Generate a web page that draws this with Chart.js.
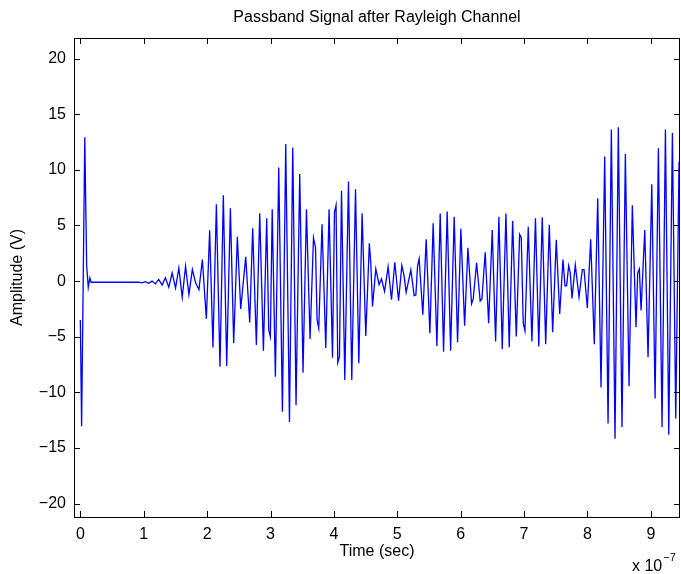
<!DOCTYPE html>
<html>
<head>
<meta charset="utf-8">
<title>Passband Signal after Rayleigh Channel</title>
<script src="https://cdn.jsdelivr.net/npm/chart.js@4.4.1/dist/chart.umd.min.js"></script>
<style>
  html, body { margin: 0; padding: 0; background: #fff; }
  #wrap { width: 681px; height: 574px; }
</style>
</head>
<body>
<div id="wrap"><canvas id="signal" width="681" height="574"></canvas></div>
<script>
// time axis in units of 1e-7 s
const timeE7 = [
  0.00, 0.02, 0.07, 0.10, 0.125, 0.15, 0.17, 0.92,
  0.973, 1.025, 1.078, 1.131, 1.184, 1.236, 1.290, 1.342, 1.396, 1.448, 1.502, 1.554, 1.607, 1.660, 1.713, 1.767, 1.819, 1.871, 1.925,
  1.988, 2.040, 2.092, 2.146, 2.203, 2.256, 2.309, 2.367, 2.419, 2.477, 2.530, 2.609, 2.672, 2.719, 2.777, 2.830, 2.888, 2.940, 2.972, 2.998, 3.027,
  3.077, 3.130, 3.188, 3.240, 3.299, 3.351, 3.403, 3.461, 3.513, 3.567, 3.624, 3.678, 3.710, 3.735, 3.761, 3.813, 3.872, 3.924, 3.978, 4.009, 4.034, 4.061, 4.088, 4.120, 4.172, 4.230, 4.282, 4.341, 4.393, 4.445, 4.503, 4.559,
  4.582, 4.609, 4.661, 4.713, 4.751, 4.799, 4.855, 4.909, 4.961, 5.020, 5.072, 5.108, 5.140, 5.214, 5.266, 5.293, 5.320, 5.345,
  5.403, 5.456, 5.514, 5.566, 5.625, 5.677, 5.730, 5.787, 5.841, 5.898, 5.951, 6.003, 6.062, 6.114,
  6.172, 6.198, 6.251, 6.308, 6.335, 6.387, 6.441, 6.498, 6.551, 6.603, 6.656, 6.714, 6.766, 6.820, 6.877, 6.930, 6.956, 6.987, 7.014,
  7.066, 7.124, 7.180, 7.232, 7.287, 7.341, 7.398, 7.451, 7.508, 7.562, 7.614, 7.646, 7.672, 7.704, 7.729, 7.756, 7.808, 7.867, 7.919, 7.946, 7.998,
  8.051, 8.108, 8.162, 8.214, 8.272, 8.325, 8.377, 8.435, 8.487, 8.545, 8.598, 8.656, 8.708, 8.766, 8.793, 8.819, 8.846, 8.904, 8.956, 9.015, 9.067, 9.119, 9.177, 9.230, 9.283, 9.340, 9.393, 9.445
];

// received amplitude (V), same sample order as timeE7
const amplitude = [
  -3.5, -13.05, 12.93, 1.34, -0.56, 0.29, -0.1, -0.1,
  -0.15, -0.05, -0.2, 0.0, -0.25, 0.15, -0.35, 0.3, -0.55, 0.74, -0.62, 1.19, -1.46, 1.34, -1.22, 1.04, -0.16, -0.77, 1.94,
  -3.39, 4.56, -5.97, 6.9, -7.69, 7.72, -7.63, 6.55, -5.58, 3.99, -2.51, 2.18, -3.72, 4.74, -5.73, 6.09, -6.25, 5.64, -4.4, -5.0, 6.46,
  -8.6, 10.22, -11.75, 12.32, -12.66, 12.0, -11.15, 9.62, -8.23, 6.46, -5.19, 3.9, 3.0, -3.48, -4.23, 5.1, -6.0, 6.46, -6.88, 6.2, 6.82, -7.33, -6.8, 8.11, -8.89, 8.95, -8.89, 8.26, -7.39, 6.09, -4.92, 3.39,
  1.64, -2.27, 1.1, -0.32, 0.2, -0.92, 1.28, -1.67, 1.7, -1.76, 1.4, 0.45, -1.01, 1.01, -1.31, -1.25, 1.34, 2.0,
  -3.02, 3.75, -4.68, 5.19, -5.82, 6.07, -6.34, 6.25, -6.25, 5.79, -5.49, 4.71, -4.02, 3.0,
  -2.03, -1.6, 1.64, -1.8, -1.6, 2.6, -3.78, 4.59, -5.43, 5.79, -6.12, 6.07, -5.94, 5.4, -4.98, 4.2, 3.9, -3.78, -4.47,
  4.89, -5.43, 5.64, -5.88, 5.73, -5.67, 5.07, -4.59, 3.72, -2.96, 1.94, -0.44, -0.4, 1.4, 0.74, -1.56, 1.46, -1.43, 1.04, 1.04, -2.42,
  3.75, -5.67, 7.45, -9.56, 11.21, -12.8, 13.62, -14.16, 13.83, -13.11, 11.42, -9.44, 6.82, -4.14, 0.74, 1.1, -2.63, 4.59, -6.85, 8.71, -10.55, 11.93, -13.11, 13.62, -13.8, 13.32, -12.35, 10.73
];

const xRange = [-0.1, 9.46];
const yRange = [-21.2, 21.85];
const yTickStep = 5;
const xTickStep = 1;

const FONT = '"Liberation Sans", Arial, Helvetica, sans-serif';

// box around the axes with inward tick marks, plus title and axis labels
const matlabFrame = {
  id: 'matlabFrame',
  afterDraw(chart) {
    const { ctx, chartArea: a, scales: { x, y } } = chart;
    const tick = 6;
    ctx.save();
    ctx.strokeStyle = '#000';
    ctx.lineWidth = 1;
    ctx.strokeRect(a.left + 0.5, a.top + 0.5, a.right - a.left - 1, a.bottom - a.top);

    ctx.beginPath();
    x.ticks.forEach(t => {
      const px = Math.round(x.getPixelForValue(t.value)) + 0.5;
      ctx.moveTo(px, a.bottom); ctx.lineTo(px, a.bottom - tick);
      ctx.moveTo(px, a.top); ctx.lineTo(px, a.top + tick);
    });
    y.ticks.forEach(t => {
      const py = Math.round(y.getPixelForValue(t.value)) + 0.5;
      ctx.moveTo(a.left, py); ctx.lineTo(a.left + tick, py);
      ctx.moveTo(a.right, py); ctx.lineTo(a.right - tick, py);
    });
    ctx.stroke();

    const mid = (a.left + a.right) / 2;
    ctx.fillStyle = '#000';
    ctx.textAlign = 'center';
    ctx.textBaseline = 'middle';
    ctx.font = '16px ' + FONT;
    ctx.fillText('Passband Signal after Rayleigh Channel', mid, 18);
    ctx.fillText('Time (sec)', mid, 552);

    ctx.save();
    ctx.translate(18, (a.top + a.bottom) / 2);
    ctx.rotate(-Math.PI / 2);
    ctx.fillText('Amplitude (V)', 0, 0);
    ctx.restore();

    // exponent of the time axis
    ctx.textAlign = 'left';
    ctx.textBaseline = 'alphabetic';
    ctx.font = '16px ' + FONT;
    ctx.fillText('x 10', 632, 571);
    const w = ctx.measureText('x 10').width;
    ctx.font = '11px ' + FONT;
    ctx.fillText('\u22127', 632 + w + 1, 561);
    ctx.restore();
  }
};

const points = timeE7.map((t, i) => ({ x: t, y: amplitude[i] }));

new Chart(document.getElementById('signal'), {
  type: 'line',
  data: {
    datasets: [{
      data: points,
      borderColor: '#0000ff',
      borderWidth: 1.3,
      pointRadius: 0,
      tension: 0,
      fill: false
    }]
  },
  options: {
    responsive: false,
    animation: false,
    events: [],
    layout: { padding: { top: 38, right: 1, left: 0, bottom: 0 } },
    plugins: {
      legend: { display: false },
      title: { display: false },
      tooltip: { enabled: false }
    },
    scales: {
      x: {
        type: 'linear',
        min: xRange[0],
        max: xRange[1],
        border: { display: false },
        grid: { display: false, drawTicks: false },
        ticks: {
          stepSize: xTickStep,
          includeBounds: false,
          color: '#000',
          padding: 8,
          maxRotation: 0,
          font: { family: FONT, size: 16 }
        },
        afterFit(scale) { scale.height = 57; }
      },
      y: {
        min: yRange[0],
        max: yRange[1],
        border: { display: false },
        grid: { display: false, drawTicks: false },
        ticks: {
          stepSize: yTickStep,
          includeBounds: false,
          color: '#000',
          padding: 8,
          font: { family: FONT, size: 16 },
          callback: v => String(v).replace('-', '\u2212')
        },
        afterFit(scale) { scale.width = 74; }
      }
    }
  },
  plugins: [matlabFrame]
});
</script>
</body>
</html>
